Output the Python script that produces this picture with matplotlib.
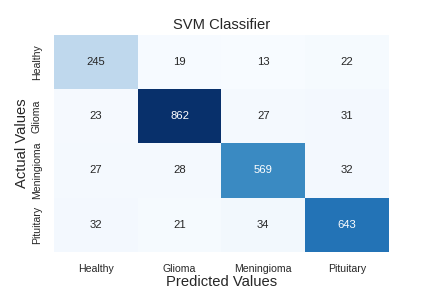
import matplotlib
matplotlib.use("Agg")
import matplotlib.pyplot as plt
import seaborn as sns
import numpy as np

labels = ["Healthy", "Glioma", "Meningioma", "Pituitary"]
cm = np.array([
    [245, 19, 13, 22],
    [23, 862, 27, 31],
    [27, 28, 569, 32],
    [32, 21, 34, 643],
])

sns.set_style("white")
plt.rcParams['font.family'] = ['Liberation Sans', 'DejaVu Sans']

fig = plt.figure(figsize=(6, 4), dpi=72)
fig.subplots_adjust(left=0.125, right=0.9, top=0.88, bottom=0.125)
ax = fig.add_subplot(111)
sns.heatmap(cm, annot=True, fmt="d", cmap="Blues", cbar=False,
            xticklabels=labels, yticklabels=labels,
            annot_kws={"fontsize": 11.2}, ax=ax)
ax.set_title("SVM Classifier", fontsize=14.8)
ax.set_xlabel("Predicted Values", fontsize=14.8, labelpad=0.5)
ax.set_ylabel("Actual Values", fontsize=14.8, labelpad=3)
ax.tick_params(axis="both", labelsize=10.5, pad=8.5)
fig.savefig("out.png", dpi=72)
